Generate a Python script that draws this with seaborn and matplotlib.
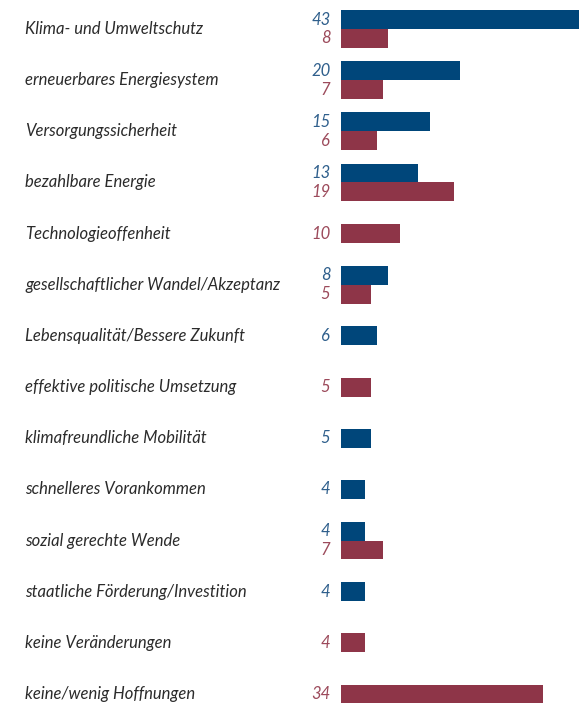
import numpy as np
import pandas as pd
import seaborn as sns
import matplotlib.pyplot as plt
import matplotlib.transforms as mtransforms

categories = ['Klima- und Umweltschutz', 'erneuerbares Energiesystem', 'Versorgungssicherheit',
              'bezahlbare Energie', 'Technologieoffenheit', 'gesellschaftlicher Wandel/Akzeptanz',
              'Lebensqualität/Bessere Zukunft', 'effektive politische Umsetzung',
              'klimafreundliche Mobilität', 'schnelleres Vorankommen', 'sozial gerechte Wende',
              'staatliche Förderung/Investition', 'keine Veränderungen', 'keine/wenig Hoffnungen']
blue_vals = [43, 20, 15, 13, np.nan, 8, 6, np.nan, 5, 4, 4, 4, np.nan, np.nan]
red_vals = [8, 7, 6, 19, 10, 5, np.nan, 5, np.nan, np.nan, 7, np.nan, 4, 34]

blue = '#00467a'
red = '#8e3548'
blue_txt = '#2f5f8c'
red_txt = '#9c4a5b'

sns.set_theme(style='white')
plt.rcParams['font.family'] = ['Lato', 'DejaVu Sans']

df = pd.DataFrame({'cat': categories, 'blue': blue_vals, 'red': red_vals})
df['pos'] = np.arange(len(df))

fig = plt.figure(figsize=(5.79, 7.05), dpi=100)
ax = fig.add_axes([341 / 579, 0, 1 - 341 / 579, 1])

h = 0.37
off = h / 2
for i, row in df.iterrows():
    both = not (np.isnan(row['blue']) or np.isnan(row['red']))
    yb = row['pos'] - off if both else row['pos']
    yr = row['pos'] + off if both else row['pos']
    if not np.isnan(row['blue']):
        ax.barh(yb, row['blue'], height=h, color=blue, linewidth=0)
        ax.text(-1.8, yb, f"{int(row['blue'])}", ha='right', va='center',
                color=blue_txt, fontsize=12, style='italic', clip_on=False)
    if not np.isnan(row['red']):
        ax.barh(yr, row['red'], height=h, color=red, linewidth=0)
        ax.text(-1.8, yr, f"{int(row['red'])}", ha='right', va='center',
                color=red_txt, fontsize=12, style='italic', clip_on=False)

# category labels on the left
trans = mtransforms.blended_transform_factory(fig.transFigure, ax.transData)
for i, c in enumerate(categories):
    ax.text(25 / 579, i, c, transform=trans, ha='left', va='center',
            color='#2b2b2b', fontsize=12, style='italic', clip_on=False)

ax.set_xlim(0, 40.1)
ax.set_ylim(13.215, -0.567)
ax.axis('off')

fig.savefig('out.png', dpi=100)
